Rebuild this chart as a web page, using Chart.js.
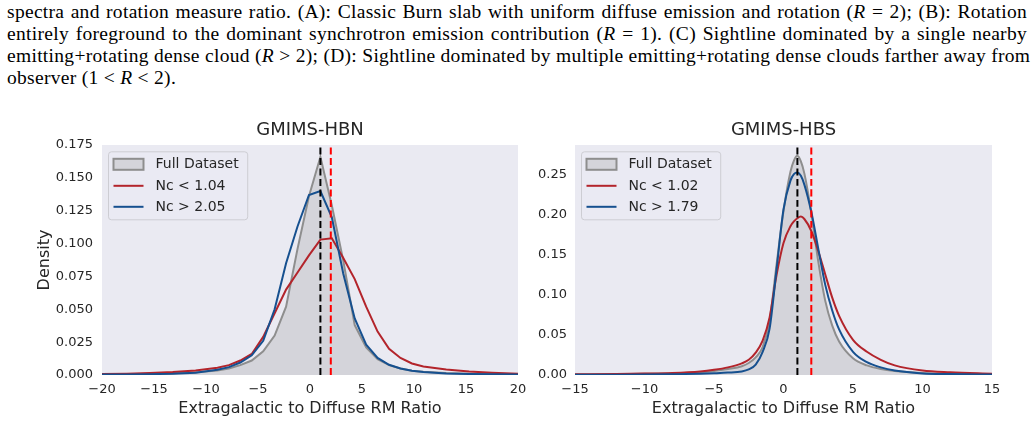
<!DOCTYPE html>
<html><head><meta charset="utf-8">
<script src="https://cdn.jsdelivr.net/npm/chart.js@4.4.0/dist/chart.umd.min.js"></script>
<style>
html,body{margin:0;padding:0;background:#fff;width:1034px;height:439px;overflow:hidden}
body{position:relative}
#para{position:absolute;left:7px;top:1px;width:1020px;font-family:"Liberation Serif",serif;font-size:19.5px;letter-spacing:0.3px;color:#000;line-height:22px}
.ln{white-space:nowrap;text-align:justify;text-align-last:justify}
.ln.last{text-align-last:left}
#w1{position:absolute;left:0;top:115px;width:540px;height:324px}
#w2{position:absolute;left:520px;top:115px;width:514px;height:324px}
</style></head>
<body>
<div id="para">
<div class="ln">spectra and rotation measure ratio. (A): Classic Burn slab with uniform diffuse emission and rotation (<i>R</i> = 2); (B): Rotation</div>
<div class="ln">entirely foreground to the dominant synchrotron emission contribution (<i>R</i> = 1). (C) Sightline dominated by a single nearby</div>
<div class="ln">emitting+rotating dense cloud (<i>R</i> &gt; 2); (D): Sightline dominated by multiple emitting+rotating dense clouds farther away from</div>
<div class="ln last">observer (1 &lt; <i>R</i> &lt; 2).</div>
</div>
<div id="w1"><canvas id="c1" width="540" height="324"></canvas></div>
<div id="w2"><canvas id="c2" width="514" height="324"></canvas></div>
<script>
// ---------- GMIMS-HBN (left) ----------
const hbnTitle = 'GMIMS-HBN';
const hbnX = [-20,-17.6,-15.4,-13.2,-11,-8.9,-7.8,-6.7,-5.6,-4.5,-3.4,-2.3,-1.2,-0.1,1,2.1,3.2,4.3,5.4,6.5,7.6,8.7,9.8,10.9,13.1,15.3,17.5,20];
const hbnFull = [0.0004,0.0006,0.0009,0.0013,0.002,0.0035,0.005,0.0075,0.011,0.018,0.030,0.052,0.096,0.136,0.166,0.129,0.087,0.038,0.021,0.012,0.0075,0.005,0.0033,0.0024,0.0015,0.001,0.0007,0.0004];
const hbnLow  = [0.0007,0.001,0.0015,0.0023,0.0035,0.0055,0.0075,0.011,0.016,0.029,0.047,0.065,0.078,0.091,0.103,0.104,0.089,0.073,0.052,0.033,0.020,0.013,0.0088,0.0065,0.0042,0.0027,0.0017,0.001];
const hbnHigh = [0.0003,0.0004,0.0006,0.001,0.0018,0.004,0.006,0.0095,0.015,0.026,0.050,0.085,0.113,0.137,0.140,0.120,0.077,0.043,0.023,0.013,0.0078,0.005,0.0032,0.0022,0.0012,0.0008,0.0005,0.0003];
const hbnLabels = ['Full Dataset','Nc < 1.04','Nc > 2.05'];
const hbnXTicks = [-20,-15,-10,-5,0,5,10,15,20];
const hbnYTicks = [0,0.025,0.05,0.075,0.1,0.125,0.15,0.175];
const hbnRange = {xmin:-20,xmax:20,ymin:0,ymax:0.175};

// ---------- GMIMS-HBS (right) ----------
const hbsTitle = 'GMIMS-HBS';
const hbsX = [-15,-12,-10,-8,-6,-5,-4,-3,-2.5,-2,-1.5,-1,-0.5,0,0.5,0.75,1,1.25,1.5,2,2.5,3,3.5,4,5,6,7,8,10,12,15];
const hbsFull = [0.0006,0.001,0.0015,0.0022,0.0035,0.005,0.0075,0.011,0.015,0.022,0.035,0.068,0.138,0.205,0.254,0.268,0.274,0.267,0.252,0.203,0.142,0.093,0.062,0.042,0.021,0.012,0.0075,0.005,0.0025,0.0015,0.0008];
const hbsLow  = [0.0008,0.0012,0.0018,0.0026,0.0045,0.0065,0.0095,0.0145,0.019,0.028,0.043,0.072,0.125,0.165,0.186,0.192,0.196,0.198,0.195,0.180,0.155,0.126,0.097,0.074,0.044,0.029,0.019,0.012,0.0055,0.0033,0.0015];
const hbsHigh = [0.0003,0.0004,0.0006,0.001,0.0016,0.0022,0.003,0.0045,0.007,0.013,0.029,0.058,0.132,0.207,0.243,0.251,0.253,0.249,0.238,0.204,0.158,0.113,0.081,0.057,0.029,0.016,0.0095,0.0055,0.002,0.0012,0.0006];
const hbsLabels = ['Full Dataset','Nc < 1.02','Nc > 1.79'];
const hbsXTicks = [-15,-10,-5,0,5,10,15];
const hbsYTicks = [0,0.05,0.1,0.15,0.2,0.25];
const hbsRange = {xmin:-15,xmax:15,ymin:0,ymax:0.2875};

// reference lines (x positions): black dashed, red dashed
const refLineX = [1, 2];
const axisLabelX = 'Extragalactic to Diffuse RM Ratio';
const axisLabelY = 'Density';

const C = {bg:'#EAEAF2', fill:'#d4d4da', grey:'#8e8e8e', red:'#b3242b', blue:'#16508f', text:'#262626'};
const FONT = 'DejaVu Sans';

function pts(xs, ys){ return xs.map((x,i)=>({x:x, y:ys[i]})); }
function fmt(dec){ return v => { const s = Math.abs(v).toFixed(dec); return (v < 0 ? '\u2212' : '') + s; }; }

const bgPlugin = {id:'bgArea', beforeDraw(chart){
  const {ctx, chartArea:a} = chart; ctx.save(); ctx.fillStyle = C.bg;
  ctx.fillRect(a.left, a.top, a.right-a.left, a.bottom-a.top); ctx.restore(); }};

const decoPlugin = {id:'deco', afterDraw(chart, args, o){
  const {ctx, chartArea:a} = chart;
  ctx.save();
  ctx.fillStyle = C.text; ctx.font = '18px "'+FONT+'"'; ctx.textAlign='center'; ctx.textBaseline='middle';
  ctx.fillText(o.title, (a.left+a.right)/2, 15);
  ctx.font = '14px "'+FONT+'"';
  const tw = Math.max(...o.labels.map(l=>ctx.measureText(l).width));
  const x0 = a.left+6.5, y0 = a.top+6.8, w = 47+tw+9, h = 68;
  ctx.beginPath(); ctx.roundRect(x0, y0, w, h, 3);
  ctx.fillStyle = 'rgba(234,234,242,0.8)'; ctx.fill();
  ctx.strokeStyle = '#cdcdd3'; ctx.lineWidth = 1; ctx.stroke();
  const rows = [y0+12.5, y0+34, y0+55];
  ctx.fillStyle = C.fill; ctx.fillRect(x0+5, rows[0]-5.5, 30, 11);
  ctx.strokeStyle = C.grey; ctx.lineWidth = 2; ctx.strokeRect(x0+5, rows[0]-5.5, 30, 11);
  [C.red, C.blue].forEach((c,i)=>{ ctx.beginPath(); ctx.moveTo(x0+5, rows[i+1]); ctx.lineTo(x0+35, rows[i+1]);
    ctx.strokeStyle = c; ctx.lineWidth = 2; ctx.stroke(); });
  ctx.fillStyle = C.text; ctx.textAlign='left'; ctx.textBaseline='middle';
  o.labels.forEach((l,i)=> ctx.fillText(l, x0+47, rows[i]+0.5));
  ctx.restore();
}};

function makeChart(id, cfg){
  const r = cfg.range;
  const ds = [
    {label:cfg.labels[0], data:pts(cfg.x, cfg.full), borderColor:C.grey, backgroundColor:C.fill, fill:'origin', borderWidth:2, order:5},
    {label:'base', data:[{x:r.xmin,y:0},{x:r.xmax,y:0}], borderColor:C.grey, borderWidth:1.5, fill:false, order:6},
    {label:cfg.labels[1], data:pts(cfg.x, cfg.low), borderColor:C.red, borderWidth:2, fill:false, order:3},
    {label:cfg.labels[2], data:pts(cfg.x, cfg.high), borderColor:C.blue, borderWidth:2, fill:false, order:2},
    {label:'ref1', data:[{x:refLineX[0],y:r.ymin},{x:refLineX[0],y:r.ymax}], borderColor:'#000', borderWidth:2, borderDash:[7,3.5], fill:false, order:1},
    {label:'ref2', data:[{x:refLineX[1],y:r.ymin},{x:refLineX[1],y:r.ymax}], borderColor:'#ff0000', borderWidth:2, borderDash:[7,3.5], fill:false, order:1}
  ];
  ds.forEach(d=>{ d.pointRadius=0; d.tension = cfg.smooth ? 0.4 : 0; if(cfg.smooth) d.cubicInterpolationMode='monotone'; });
  ds[4].tension=0; ds[5].tension=0; ds[1].tension=0;
  return new Chart(document.getElementById(id), {
    type:'line',
    data:{datasets:ds},
    plugins:[bgPlugin, decoPlugin],
    options:{
      responsive:false, animation:false, devicePixelRatio:1,
      layout:{padding:{top:30, right:cfg.padRight, left:0, bottom:0}},
      plugins:{legend:{display:false}, tooltip:{enabled:false}, deco:{title:cfg.title, labels:cfg.labels}},
      scales:{
        x:{type:'linear', min:r.xmin, max:r.xmax, grid:{display:false, drawTicks:false}, border:{display:false},
           ticks:{padding:7, color:C.text, font:{family:FONT, size:13}, callback:fmt(0), autoSkip:false, maxRotation:0},
           afterBuildTicks:s=>{ s.ticks = cfg.xTicks.map(v=>({value:v})); },
           afterFit:s=>{ s.height = 64; },
           title:{display:true, text:axisLabelX, color:C.text, font:{family:FONT, size:16}, padding:{top:0, bottom:21}}},
        y:{type:'linear', min:r.ymin, max:r.ymax, grid:{display:false, drawTicks:false}, border:{display:false},
           ticks:{padding:cfg.yPad, color:C.text, font:{family:FONT, size:13}, callback:fmt(cfg.yDec), autoSkip:false},
           afterBuildTicks:s=>{ s.ticks = cfg.yTicks.map(v=>({value:v})); },
           afterFit:s=>{ s.width = cfg.yWidth; },
           title:{display:cfg.yTitle, text:axisLabelY, color:C.text, font:{family:FONT, size:16}, padding:{top:35, bottom:0}}}
      }
    }
  });
}

makeChart('c1', {title:hbnTitle, x:hbnX, full:hbnFull, low:hbnLow, high:hbnHigh, labels:hbnLabels,
  xTicks:hbnXTicks, yTicks:hbnYTicks, range:hbnRange, smooth:false, padRight:22, yWidth:102, yPad:9, yDec:3, yTitle:true});
makeChart('c2', {title:hbsTitle, x:hbsX, full:hbsFull, low:hbsLow, high:hbsHigh, labels:hbsLabels,
  xTicks:hbsXTicks, yTicks:hbsYTicks, range:hbsRange, smooth:true, padRight:42, yWidth:55, yPad:8, yDec:2, yTitle:false});
</script>
</body></html>
